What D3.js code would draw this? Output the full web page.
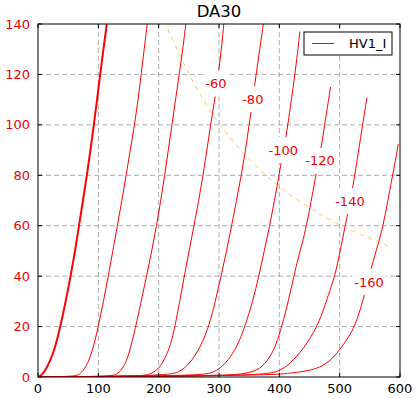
<!DOCTYPE html>
<html>
<head>
<meta charset="utf-8">
<script src="https://cdn.jsdelivr.net/npm/d3@7"></script>
<style>
  body { margin: 0; background: #fff; }
  svg { font-family: "DejaVu Sans", sans-serif; }
  .grid line { stroke: #999; stroke-width: 0.8; stroke-dasharray: 5,3; }
  .curve { fill: none; stroke: red; }
  .pmax { fill: none; stroke: orange; stroke-opacity: 0.6; stroke-width: 1; stroke-dasharray: 5,4; }
</style>
</head>
<body>
<svg id="chart" width="417" height="398"></svg>
<script>
// plate curves, [Va (V), Ia (mA)]
var g0   = [[0,0],[5,0.6],[10,1.8],[20,6],[30,13],[37,20],[46,30],[54,40],[61.5,50],[68,60],[74.5,70],[81,80],[87,90],[92.5,100],[98,110],[103,120],[108.5,130],[114,140]];
var g20  = [[0,0],[62,0.2],[70,1.2],[80,4],[90,10],[100,20],[108.5,30],[116.5,40],[124,50],[131.5,60],[139,70],[146,80],[153,90],[160,100],[166,110],[171,120],[176,130],[181,140]];
var g40  = [[0,0],[120,0.2],[130,1],[140,3],[150,8],[162,20],[171,30],[180,40],[188.5,50],[196.5,60],[203.5,70],[210,80],[216,90],[222,100],[228,110],[234,120],[240,130],[245,140]];
var g60  = [[0,0],[170,0.3],[185,1],[200,3],[212,8],[220,13],[227,20],[235,30],[242.5,40],[250.5,50],[258.5,60],[266.5,70],[273.5,80],[280,90],[286,100],[293,110],[299,120],[304,130],[308,140]];
var g80  = [[0,0],[215,0.5],[235,2],[250,5],[262,9],[273,14],[283,20],[294,30],[303.5,40],[312.5,50],[321,60],[329,70],[337,80],[344,90],[350,100],[356,110],[361.5,120],[367.5,130],[373.5,140]];
var g100 = [[0,0],[270,0.5],[290,1.8],[301.6,3.4],[315,6.5],[330,12],[343,20],[356,30],[366,40],[375,50],[384,60],[392,70],[399.5,80],[405,88],[411,95],[417,105],[423,115],[429,126],[434,137]];
var g120 = [[0,0],[320,0.5],[345,1.5],[368,2.8],[385,8],[395,13],[404,20],[415,30],[424,40],[431,47],[438,53],[445,60],[453,70],[459,78],[464.5,85],[469.5,91],[477,103],[485,115]];
var g140 = [[0,0],[360,0.4],[400,2],[418,5.4],[440,11],[463,20],[475,28],[484,34.5],[492,40],[501,50],[509,60],[515.5,67],[521.5,75],[527,83],[531.5,90],[538,100],[545,110.7]];
var g160 = [[0,0],[380,0.6],[418,1.5],[440,2.2],[462,3.2],[483,6],[500,10.7],[514,15.5],[525,20],[540,31],[553,44],[563,52],[572,60],[580,70],[586,78],[592,85],[597,92.4]];

var gridVolts = [0, -20, -40, -60, -80, -100, -120, -140, -160];
var curves = [g0, g20, g40, g60, g80, g100, g120, g140, g160];

// inline labels: grid voltage and where it sits [Va, Ia]
var labelVolts = [-60, -80, -100, -120, -140, -160];
var labelPos = [[295,116.4], [356,110.2], [406.5,90], [467.5,85.7], [517,69.8], [548.7,37.7]];

// max dissipation line
var pmax = [[215,138],[240,125],[268,112],[300,100],[350,86],[400,75],[450,67],[500,60],[550,55],[580,52]];

var xTicks = [0, 100, 200, 300, 400, 500, 600];
var yTicks = [0, 20, 40, 60, 80, 100, 120, 140];

var margin = {left: 38, right: 17, top: 24, bottom: 21};
var svg = d3.select('#chart');
var W = +svg.attr('width'), H = +svg.attr('height');
var w = W - margin.left - margin.right, h = H - margin.top - margin.bottom;

var x = d3.scaleLinear().domain([0, 600]).range([0, w]);
var y = d3.scaleLinear().domain([0, 140]).range([h, 0]);

svg.append('defs').append('clipPath').attr('id', 'clip')
    .append('rect').attr('width', w).attr('height', h);

var g = svg.append('g').attr('transform', 'translate(' + margin.left + ',' + margin.top + ')');

// grid
var grid = g.append('g').attr('class', 'grid');
grid.selectAll('.vx').data(xTicks.slice(1, -1)).enter().append('line')
    .attr('x1', x).attr('x2', x).attr('y1', 0).attr('y2', h);
grid.selectAll('.hy').data(yTicks.slice(1, -1)).enter().append('line')
    .attr('x1', 0).attr('x2', w).attr('y1', y).attr('y2', y);

var plot = g.append('g').attr('clip-path', 'url(#clip)');

var line = d3.line()
    .x(function(d) { return x(d[0]); })
    .y(function(d) { return y(d[1]); })
    .curve(d3.curveBasis);

plot.selectAll('.curve').data(curves).enter().append('path')
    .attr('class', 'curve')
    .style('stroke-width', function(d, i) { return i == 0 ? 2 : 1; })
    .attr('d', line);

plot.append('path').datum(pmax).attr('class', 'pmax')
    .attr('d', line);

// labels with white boxes cutting through the curves
var labels = g.selectAll('.lbl').data(labelVolts).enter().append('g')
    .attr('class', 'lbl')
    .attr('transform', function(d, i) { return 'translate(' + x(labelPos[i][0]) + ',' + y(labelPos[i][1]) + ')'; });
labels.append('rect').attr('fill', '#fff');
labels.append('text')
    .attr('text-anchor', 'middle')
    .attr('dy', '0.35em')
    .attr('fill', '#e00')
    .attr('font-size', 13)
    .text(function(d) { return d; });
labels.each(function() {
    var t = d3.select(this).select('text').node();
    var tw = t.getComputedTextLength();
    d3.select(this).select('rect')
        .attr('x', -tw / 2 - 2).attr('y', -13)
        .attr('width', tw + 4).attr('height', 26);
});

// frame + inward ticks on all sides
g.append('rect').attr('width', w).attr('height', h)
    .attr('fill', 'none').attr('stroke', '#000').attr('stroke-width', 1);

var tl = 4;
g.selectAll('.xt').data(xTicks).enter().append('path')
    .attr('stroke', '#000')
    .attr('d', function(d) { return 'M' + x(d) + ',' + h + 'v' + (-tl) + 'M' + x(d) + ',0v' + tl; });
g.selectAll('.yt').data(yTicks).enter().append('path')
    .attr('stroke', '#000')
    .attr('d', function(d) { return 'M0,' + y(d) + 'h' + tl + 'M' + w + ',' + y(d) + 'h' + (-tl); });

// tick labels
g.selectAll('.xl').data(xTicks).enter().append('text')
    .attr('x', x).attr('y', h + 16)
    .attr('text-anchor', 'middle')
    .attr('font-size', 13)
    .text(function(d) { return d; });
g.selectAll('.yl').data(yTicks).enter().append('text')
    .attr('x', -8).attr('y', y).attr('dy', '0.35em')
    .attr('text-anchor', 'end')
    .attr('font-size', 13)
    .attr('fill', '#e00')
    .text(function(d) { return d; });

// title
svg.append('text')
    .attr('x', margin.left + w / 2).attr('y', 17)
    .attr('text-anchor', 'middle')
    .attr('font-size', 16.5)
    .text('DA30');

// legend
var lg = g.append('g').attr('transform', 'translate(' + (w - 96) + ',8)');
lg.append('rect').attr('width', 88).attr('height', 23)
    .attr('fill', '#fff').attr('stroke', '#000');
lg.append('line').attr('x1', 8).attr('x2', 30).attr('y1', 11.5).attr('y2', 11.5)
    .attr('stroke', 'red');
lg.append('text').attr('x', 45).attr('y', 11.5).attr('dy', '0.35em')
    .attr('font-size', 13)
    .text('HV1_I');
</script>
</body>
</html>
